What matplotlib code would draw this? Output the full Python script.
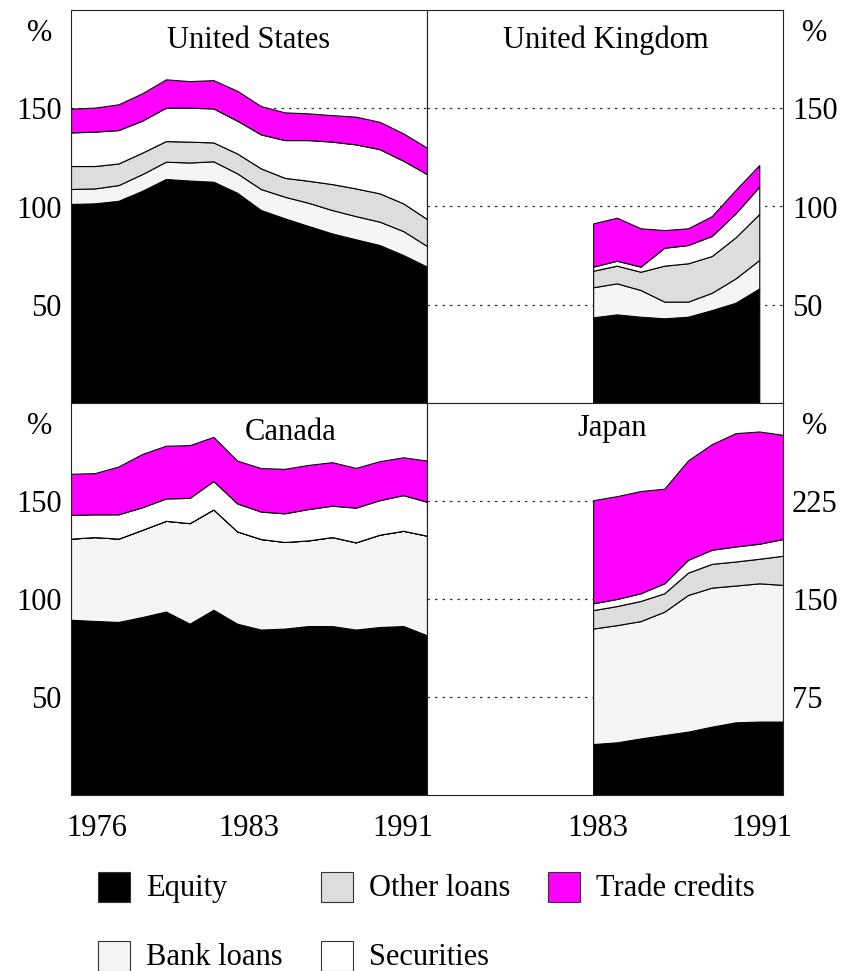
import matplotlib.pyplot as plt
import numpy as np
from matplotlib.patches import Rectangle

plt.rcParams['font.family'] = ['Liberation Serif', 'DejaVu Serif']

# years
years_long = list(range(1976, 1992))   # US, Canada
years_uk = list(range(1983, 1991))
years_jp = list(range(1983, 1992))

series_names = ['Equity', 'Bank loans', 'Other loans', 'Securities', 'Trade credits']
series_colors = ['#000000', '#f5f5f5', '#dddddd', '#ffffff', '#ff00ff']

# United States (% , stacked components)
us_equity = [101.3, 101.6, 102.9, 108.0, 114.0, 113.2, 112.6, 107.0, 98.2, 94.0, 90.1, 86.3, 83.3, 80.4, 75.3, 69.4]
us_bank = [7.6, 7.6, 8.0, 8.5, 8.8, 9.2, 10.4, 9.9, 10.7, 11.0, 11.8, 11.9, 11.8, 11.9, 12.2, 10.5]
us_other = [11.7, 11.4, 11.0, 10.9, 10.5, 10.6, 9.6, 10.1, 10.5, 9.6, 11.2, 13.2, 14.1, 14.4, 14.1, 13.7]
us_sec = [17.1, 17.5, 17.0, 16.3, 17.0, 17.3, 17.3, 16.7, 17.3, 19.2, 20.7, 21.6, 22.4, 22.5, 21.7, 22.9]
us_trade = [12.1, 12.2, 13.1, 13.9, 14.4, 13.5, 14.4, 15.2, 14.4, 14.1, 13.6, 13.5, 14.1, 13.9, 13.9, 13.4]

# United Kingdom
uk_equity = [43.6, 45.1, 43.9, 43.1, 43.9, 47.3, 51.0, 58.3]
uk_bank = [15.3, 15.8, 13.6, 8.5, 7.7, 8.8, 12.4, 14.5]
uk_other = [8.4, 9.0, 9.3, 18.3, 19.5, 18.7, 20.9, 23.4]
uk_sec = [2.1, 2.5, 2.6, 9.1, 9.3, 10.2, 12.2, 13.9]
uk_trade = [22.0, 21.9, 19.5, 9.0, 8.5, 10.1, 11.9, 11.0]

# Canada
ca_equity = [89.4, 88.8, 88.3, 90.8, 93.6, 87.4, 94.5, 87.4, 84.4, 84.9, 86.2, 86.2, 84.4, 85.7, 86.2, 81.5]
ca_bank = [41.4, 42.8, 42.5, 44.5, 46.3, 51.3, 51.2, 47.1, 46.2, 44.2, 43.7, 45.4, 44.5, 47.1, 48.6, 50.8]
ca_other = [0.0] * 16
ca_sec = [12.1, 11.6, 12.4, 11.5, 11.4, 12.9, 14.5, 14.3, 14.0, 14.6, 16.0, 16.0, 17.7, 17.6, 18.2, 17.3]
ca_trade = [21.0, 21.0, 24.4, 27.2, 26.9, 26.9, 22.5, 21.8, 22.2, 22.7, 22.5, 22.2, 20.3, 19.9, 19.3, 21.0]

# Japan
jp_equity = [39.0, 40.3, 43.3, 45.9, 48.5, 52.3, 55.6, 56.2, 56.2]
jp_bank = [88.4, 89.7, 89.8, 94.4, 104.6, 106.4, 104.7, 105.8, 104.6]
jp_other = [14.1, 14.6, 15.4, 14.1, 17.1, 18.2, 18.4, 18.8, 22.3]
jp_sec = [5.2, 5.4, 5.9, 7.6, 9.8, 10.8, 11.5, 11.5, 12.8]
jp_trade = [78.9, 78.7, 78.2, 72.4, 76.1, 80.8, 86.7, 85.9, 79.7]

xtick_pos_left = [1977.1, 1983.5, 1990.0]
xtick_lab_left = ['1976', '1983', '1991']
xtick_pos_right = [1983.2, 1990.1]
xtick_lab_right = ['1983', '1991']

FS = 22
W, H = 845, 971
fig = plt.figure(figsize=(W / 100, H / 100), dpi=100)


def px_axes(x0, y0, x1, y1):
    return fig.add_axes([x0 / W, 1 - y1 / H, (x1 - x0) / W, (y1 - y0) / H])


panels = [
    (px_axes(71, 10, 427, 403), years_long, [us_equity, us_bank, us_other, us_sec, us_trade],
     'United States', (0.50, 0.922), 'left', (0, 200), [50, 100, 150]),
    (px_axes(427, 10, 783, 403), years_uk, [uk_equity, uk_bank, uk_other, uk_sec, uk_trade],
     'United Kingdom', (0.503, 0.922), 'right', (0, 200), [50, 100, 150]),
    (px_axes(71, 403, 427, 795), years_long, [ca_equity, ca_bank, ca_other, ca_sec, ca_trade],
     'Canada', (0.618, 0.925), 'left', (0, 200), [50, 100, 150]),
    (px_axes(427, 403, 783, 795), years_jp, [jp_equity, jp_bank, jp_other, jp_sec, jp_trade],
     'Japan', (0.52, 0.935), 'right', (0, 300), [75, 150, 225]),
]

for i, (ax, yrs, stack, title, tpos, side, ylim, yt) in enumerate(panels):
    ax.set_axisbelow(True)
    ax.stackplot(yrs, *stack, colors=series_colors, edgecolor='black', linewidth=0.8)
    ax.set_xlim(1976, 1991)
    ax.set_ylim(*ylim)
    ax.set_yticks(yt)
    ax.yaxis.grid(True, linestyle=(0, (2, 4)), color='#333333', linewidth=0.9)
    ax.tick_params(axis='both', length=0, labelsize=FS)
    ax.tick_params(axis='y', pad=6.5)
    if side == 'right':
        ax.yaxis.tick_right()
        ax.text(1.09, 0.94, '%', transform=ax.transAxes, fontsize=FS, ha='center', va='center')
    else:
        ax.text(-0.087, 0.94, '%', transform=ax.transAxes, fontsize=FS, ha='center', va='center')
    ax.text(tpos[0], tpos[1], title, transform=ax.transAxes, fontsize=FS, ha='center', va='center', zorder=5)
    if i < 2:
        ax.set_xticks([])
    elif i == 2:
        ax.set_xticks(xtick_pos_left)
        ax.set_xticklabels(xtick_lab_left)
        ax.tick_params(axis='x', pad=14)
    else:
        ax.set_xticks(xtick_pos_right)
        ax.set_xticklabels(xtick_lab_right)
        ax.tick_params(axis='x', pad=14)
    for sp in ax.spines.values():
        sp.set_linewidth(0.8)
        sp.set_color('#222222')

# legend drawn by hand
legend_items = [
    ('Equity', 0, 98, 872), ('Other loans', 2, 321, 872), ('Trade credits', 4, 548, 872),
    ('Bank loans', 1, 98, 941), ('Securities', 3, 321, 941),
]
for name, k, x, y in legend_items:
    fig.add_artist(Rectangle((x / W, 1 - (y + 30) / H), 32 / W, 30 / H, transform=fig.transFigure,
                             facecolor=series_colors[k], edgecolor='#333333', linewidth=0.8))
    fig.text((x + 48) / W, 1 - (y + 16) / H, name, fontsize=FS, ha='left', va='center')

fig.savefig('out.png', dpi=100)
